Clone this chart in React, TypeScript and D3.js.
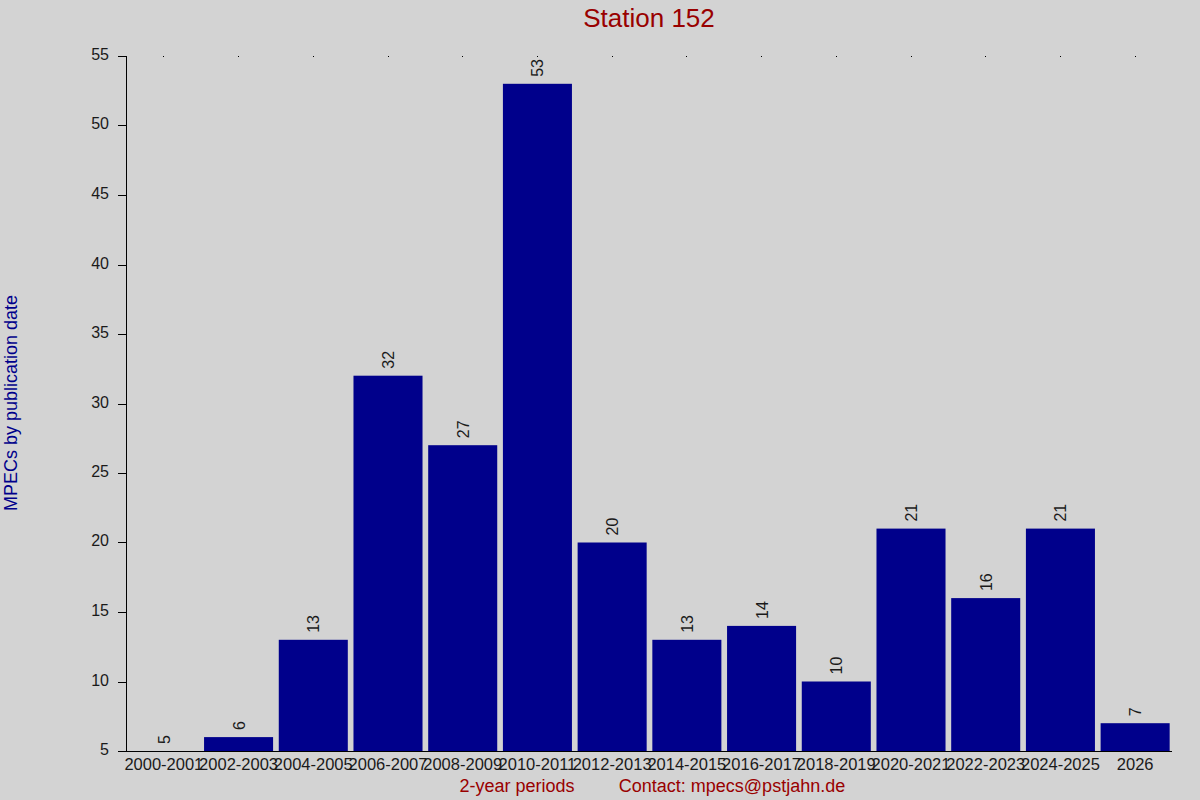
import { useEffect, useRef } from 'react';
import * as d3 from 'd3';

// 2-year periods and MPEC counts for station 152
const PERIODS = [
  '2000-2001', '2002-2003', '2004-2005', '2006-2007', '2008-2009', '2010-2011', '2012-2013',
  '2014-2015', '2016-2017', '2018-2019', '2020-2021', '2022-2023', '2024-2025', '2026',
];
const COUNTS = [5, 6, 13, 32, 27, 53, 20, 13, 14, 10, 21, 16, 21, 7];
const Y_TICKS = [5, 10, 15, 20, 25, 30, 35, 40, 45, 50, 55];

const TITLE = 'Station 152';
const Y_LABEL = 'MPECs by publication date';
const X_LABEL = '2-year periods';
const CONTACT = 'Contact: mpecs@pstjahn.de';

const WIDTH = 1200;
const HEIGHT = 800;
const MARGIN = { top: 56, right: 28, bottom: 49, left: 126 } as const;
const FONT = 'Liberation Sans, Arial, Helvetica, sans-serif';
const BG = '#d3d3d3';
const BAR = '#00008b';
const RED = '#990000';
const INK = '#1a1a1a';

export default function App() {
  const svgRef = useRef<SVGSVGElement | null>(null);

  useEffect(() => {
    const svgEl = svgRef.current;
    if (!svgEl) return;
    const svg = d3.select(svgEl);
    svg.selectAll('*').remove();

    const x0 = MARGIN.left;
    const x1 = WIDTH - MARGIN.right;
    const yTop = MARGIN.top;
    const yBottom = HEIGHT - MARGIN.bottom;

    const xScale = d3.scaleBand<string>().domain(PERIODS).range([x0, x1]).paddingInner(0.076).paddingOuter(0.038);
    const yScale = d3.scaleLinear().domain([5, 55]).range([yBottom, yTop]);

    svg.append('rect').attr('width', WIDTH).attr('height', HEIGHT).attr('fill', BG);

    // ---- title ----
    svg
      .append('text')
      .attr('x', 649)
      .attr('y', 27)
      .attr('text-anchor', 'middle')
      .attr('font-family', FONT)
      .attr('font-size', 26)
      .attr('fill', RED)
      .text(TITLE);

    // ---- bars ----
    const bw = xScale.bandwidth();
    svg
      .append('g')
      .selectAll('rect')
      .data(PERIODS)
      .join('rect')
      .attr('x', (d) => (xScale(d) as number) + 0.5)
      .attr('y', (_, i) => yScale(COUNTS[i]))
      .attr('width', bw)
      .attr('height', (_, i) => yBottom - yScale(COUNTS[i]))
      .attr('fill', BAR);

    // ---- value labels (rotated) ----
    svg
      .append('g')
      .selectAll('text')
      .data(PERIODS)
      .join('text')
      .attr('transform', (d, i) => {
        const cx = (xScale(d) as number) + bw / 2 + 1;
        return `translate(${cx}, ${yScale(COUNTS[i]) - 7}) rotate(-90)`;
      })
      .attr('text-anchor', 'start')
      .attr('dominant-baseline', 'central')
      .attr('font-family', FONT)
      .attr('font-size', 16)
      .attr('fill', INK)
      .text((_, i) => String(COUNTS[i]));

    // ---- top dots ----
    svg
      .append('g')
      .selectAll('rect')
      .data(PERIODS)
      .join('rect')
      .attr('x', (d) => Math.round((xScale(d) as number) + bw / 2))
      .attr('y', yTop)
      .attr('width', 1)
      .attr('height', 1)
      .attr('fill', '#000');

    // ---- y axis ----
    const yAxis = svg.append('g');
    yAxis
      .append('line')
      .attr('x1', x0 + 0.5)
      .attr('x2', x0 + 0.5)
      .attr('y1', yTop)
      .attr('y2', yBottom + 0.5)
      .attr('stroke', '#000');
    const yt = yAxis
      .selectAll('g.tick')
      .data(Y_TICKS)
      .join('g')
      .attr('class', 'tick')
      .attr('transform', (d) => `translate(0, ${Math.round(yScale(d)) + 0.5})`);
    yt.append('line').attr('x1', x0 - 8).attr('x2', x0).attr('stroke', '#000');
    yt.append('text')
      .attr('x', x0 - 17)
      .attr('y', -2)
      .attr('text-anchor', 'end')
      .attr('dominant-baseline', 'central')
      .attr('font-family', FONT)
      .attr('font-size', 16)
      .attr('fill', INK)
      .text((d) => String(d));

    // ---- x axis ----
    svg
      .append('line')
      .attr('x1', x0)
      .attr('x2', x1)
      .attr('y1', yBottom + 0.5)
      .attr('y2', yBottom + 0.5)
      .attr('stroke', '#000');
    svg
      .append('g')
      .selectAll('text')
      .data(PERIODS)
      .join('text')
      .attr('x', (d) => (xScale(d) as number) + bw / 2 + 0.5)
      .attr('y', 770)
      .attr('text-anchor', 'middle')
      .attr('font-family', FONT)
      .attr('font-size', 16.5)
      .attr('fill', INK)
      .text((d) => d);

    // ---- axis titles ----
    svg
      .append('text')
      .attr('transform', `translate(17, 403) rotate(-90)`)
      .attr('text-anchor', 'middle')
      .attr('font-family', FONT)
      .attr('font-size', 18)
      .attr('fill', BAR)
      .text(Y_LABEL);
    svg
      .append('text')
      .attr('x', 517)
      .attr('y', 792)
      .attr('text-anchor', 'middle')
      .attr('font-family', FONT)
      .attr('font-size', 18)
      .attr('fill', RED)
      .text(X_LABEL);
    svg
      .append('text')
      .attr('x', 732)
      .attr('y', 792)
      .attr('text-anchor', 'middle')
      .attr('font-family', FONT)
      .attr('font-size', 18)
      .attr('fill', RED)
      .text(CONTACT);
  }, []);

  return (
    <svg
      ref={svgRef}
      width={WIDTH}
      height={HEIGHT}
      viewBox={`0 0 ${WIDTH} ${HEIGHT}`}
      style={{ position: 'absolute', left: 0, top: 0, display: 'block' }}
    />
  );
}
